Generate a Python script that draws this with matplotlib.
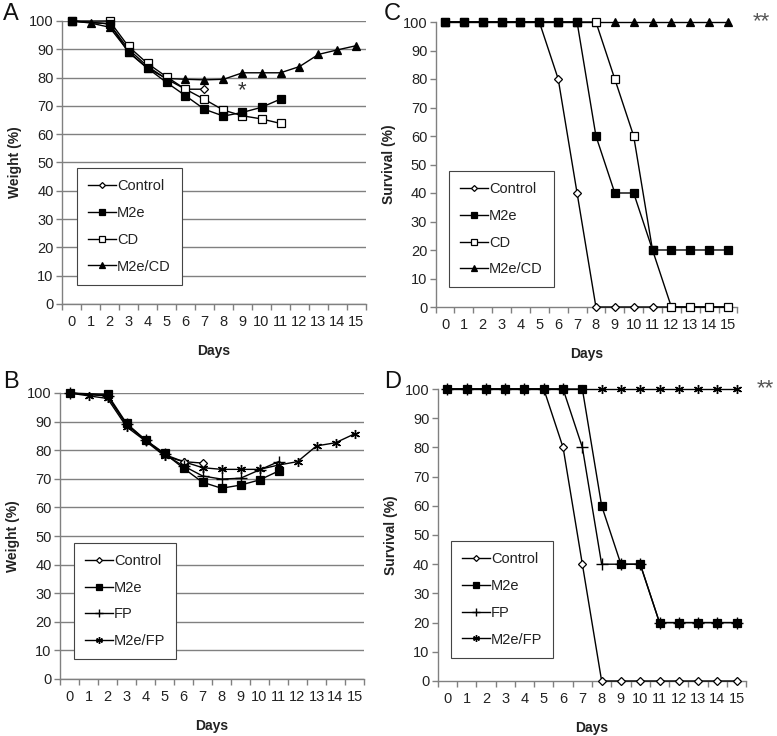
import matplotlib
matplotlib.use('Agg')
import matplotlib.pyplot as plt
from matplotlib.lines import Line2D

plt.rcParams['font.family'] = ['Liberation Sans', 'DejaVu Sans']

day_labels = [str(d) for d in range(16)]

# ---- Panel A: weight ----
a_control_days = [0, 2, 3, 4, 5, 6, 7]
a_control = [100, 99, 90, 84, 79.5, 75.9, 75.9]
a_m2e_days = [0, 2, 3, 4, 5, 6, 7, 8, 9, 10, 11]
a_m2e = [100, 99, 88.9, 83.3, 78.3, 73.6, 68.8, 66.4, 67.7, 69.5, 72.4]
a_cd_days = [0, 2, 3, 4, 5, 6, 7, 8, 9, 10, 11]
a_cd = [100, 100, 91, 85, 80.3, 75.9, 72.3, 68.5, 66.5, 65.4, 63.8]
a_combo_days = list(range(16))
a_combo = [100, 99.3, 97.8, 89.2, 83.3, 79.7, 79.4, 79.2, 79.4, 81.7, 81.7, 81.7, 83.9, 88.2, 89.8, 91.3]

# ---- Panel B: weight ----
b_control_days = [0, 2, 3, 4, 5, 6, 7]
b_control = [100, 99, 89, 83.5, 78.5, 76, 75.5]
b_m2e_days = [0, 2, 3, 4, 5, 6, 7, 8, 9, 10, 11]
b_m2e = [100, 99.5, 89.4, 83.6, 78.9, 73.7, 68.8, 66.7, 67.8, 69.6, 72.7]
b_fp_days = [0, 2, 3, 4, 5, 6, 7, 8, 9, 10, 11]
b_fp = [100, 99, 89, 83.5, 78.5, 74.5, 71.0, 69.9, 70.2, 73.1, 76.0]
b_combo_days = list(range(16))
b_combo = [100, 99.0, 98.1, 88.2, 83.2, 78.0, 76.0, 73.9, 73.3, 73.3, 73.3, 74.8, 76.0, 81.5, 82.6, 85.7]

# ---- Panel C: survival ----
c_days = list(range(16))
c_control = [100, 100, 100, 100, 100, 100, 80, 40, 0, 0, 0, 0, 0, 0, 0, 0]
c_m2e = [100, 100, 100, 100, 100, 100, 100, 100, 60, 40, 40, 20, 20, 20, 20, 20]
c_cd = [100, 100, 100, 100, 100, 100, 100, 100, 100, 80, 60, 20, 0, 0, 0, 0]
c_combo = [100] * 16

# ---- Panel D: survival ----
d_days = list(range(16))
d_control = [100, 100, 100, 100, 100, 100, 80, 40, 0, 0, 0, 0, 0, 0, 0, 0]
d_m2e = [100, 100, 100, 100, 100, 100, 100, 100, 60, 40, 40, 20, 20, 20, 20, 20]
d_fp = [100, 100, 100, 100, 100, 100, 100, 80, 40, 40, 40, 20, 20, 20, 20, 20]
d_combo = [100] * 16

W, H = 777, 736
fig = plt.figure(figsize=(W / 100, H / 100), dpi=100)


def px_axes(left, right, top, bottom):
    return fig.add_axes([left / W, (H - bottom) / H, (right - left) / W, (bottom - top) / H])


GRAY = '#808080'
TXT = '#222222'
FS = 10.5

styles = {
    'Control': dict(marker='D', ms=4, mfc='white', mec='black', mew=0.9),
    'M2e': dict(marker='s', ms=5.5, mfc='black', mec='black', mew=0.9),
    'CD': dict(marker='s', ms=5.5, mfc='white', mec='black', mew=0.9),
    'M2e/CD': dict(marker='^', ms=6, mfc='black', mec='black', mew=0.9),
    'FP': dict(marker='+', ms=8.5, mfc='black', mec='black', mew=1.0),
    'M2e/FP': dict(marker=(6, 2, 0), ms=6.5, mfc='black', mec='black', mew=1.0),
}


def style_axes(ax, grid, ylabel):
    ax.set_xlim(-0.5, 15.5)
    ax.set_ylim(0, 100)
    ax.set_yticks(range(0, 101, 10))
    ax.set_xticks(range(16))
    ax.set_xticklabels(day_labels)
    ax.set_xticks([x - 0.5 for x in range(17)], minor=True)
    ax.tick_params(axis='x', which='major', length=0, pad=8, labelsize=FS, colors=TXT)
    ax.tick_params(axis='x', which='minor', length=4, direction='out', color=GRAY, width=1)
    ax.tick_params(axis='y', length=4, direction='out', color=GRAY, width=1, labelsize=FS, labelcolor=TXT, pad=2)
    for s in ('top', 'right'):
        ax.spines[s].set_visible(False)
    for s in ('left', 'bottom'):
        ax.spines[s].set_color(GRAY)
        ax.spines[s].set_linewidth(1.0)
    if grid:
        ax.yaxis.grid(True, color=GRAY, lw=1.0)
        ax.set_axisbelow(True)
    ax.set_xlabel('Days', fontsize=10, fontweight='bold', color=TXT, labelpad=11)
    ax.set_ylabel(ylabel, fontsize=10, fontweight='bold', color=TXT, labelpad=5)


def plot_series(ax, x, y, name, z):
    ax.plot(x, y, color='black', lw=1.0, zorder=z, clip_on=False, **styles[name])


def add_legend(ax, names, bx, by):
    handles = []
    for n in names:
        st = dict(styles[n])
        st['ms'] = st['ms'] * 0.75
        handles.append(Line2D([], [], color='black', lw=1.0, **st))
    leg = ax.legend(handles, names, loc='upper left', bbox_to_anchor=(bx, by),
                    borderaxespad=0, fancybox=False, framealpha=1, edgecolor='#444444',
                    fontsize=FS, labelspacing=0.88, handlelength=1.9, handletextpad=0.1,
                    borderpad=0.75)
    leg.get_frame().set_linewidth(0.8)
    for t in leg.get_texts():
        t.set_color(TXT)


# Panel A
axA = px_axes(62, 366, 21, 304)
style_axes(axA, True, 'Weight (%)')
plot_series(axA, a_combo_days, a_combo, 'M2e/CD', 3)
plot_series(axA, a_control_days, a_control, 'Control', 4)
plot_series(axA, a_cd_days, a_cd, 'CD', 5)
plot_series(axA, a_m2e_days, a_m2e, 'M2e', 6)
axA.text(9, 75.5, '*', ha='center', va='center', fontsize=16, color='#333333')
add_legend(axA, ['Control', 'M2e', 'CD', 'M2e/CD'], 0.049, 0.48)

# Panel C
axC = px_axes(435.6, 737.4, 22, 307)
style_axes(axC, False, 'Survival (%)')
plot_series(axC, c_days, c_combo, 'M2e/CD', 3)
plot_series(axC, c_days, c_control, 'Control', 4)
plot_series(axC, c_days, c_cd, 'CD', 5)
plot_series(axC, c_days, c_m2e, 'M2e', 6)
axC.text(16.75, 100, '**', ha='center', va='center', fontsize=16, color='#555555', clip_on=False)
add_legend(axC, ['Control', 'M2e', 'CD', 'M2e/CD'], 0.044, 0.477)

# Panel B
axB = px_axes(60, 364, 393, 679)
style_axes(axB, True, 'Weight (%)')
plot_series(axB, b_combo_days, b_combo, 'M2e/FP', 3)
plot_series(axB, b_control_days, b_control, 'Control', 4)
plot_series(axB, b_fp_days, b_fp, 'FP', 5)
plot_series(axB, b_m2e_days, b_m2e, 'M2e', 6)
add_legend(axB, ['Control', 'M2e', 'FP', 'M2e/FP'], 0.046, 0.476)

# Panel D
axD = px_axes(437.7, 746.3, 389, 681)
style_axes(axD, False, 'Survival (%)')
plot_series(axD, d_days, d_combo, 'M2e/FP', 3)
plot_series(axD, d_days, d_fp, 'FP', 4)
plot_series(axD, d_days, d_control, 'Control', 5)
plot_series(axD, d_days, d_m2e, 'M2e', 6)
axD.text(16.47, 100, '**', ha='center', va='center', fontsize=16, color='#555555', clip_on=False)
add_legend(axD, ['Control', 'M2e', 'FP', 'M2e/FP'], 0.043, 0.479)

# Panel letters
for lbl, x, y in [('A', 3, 3), ('C', 384, 3), ('B', 3, 371), ('D', 384, 371)]:
    fig.text(x / W, 1 - y / H, lbl, fontsize=17, ha='left', va='top', color='#111111')

fig.savefig('out.png', dpi=100)
